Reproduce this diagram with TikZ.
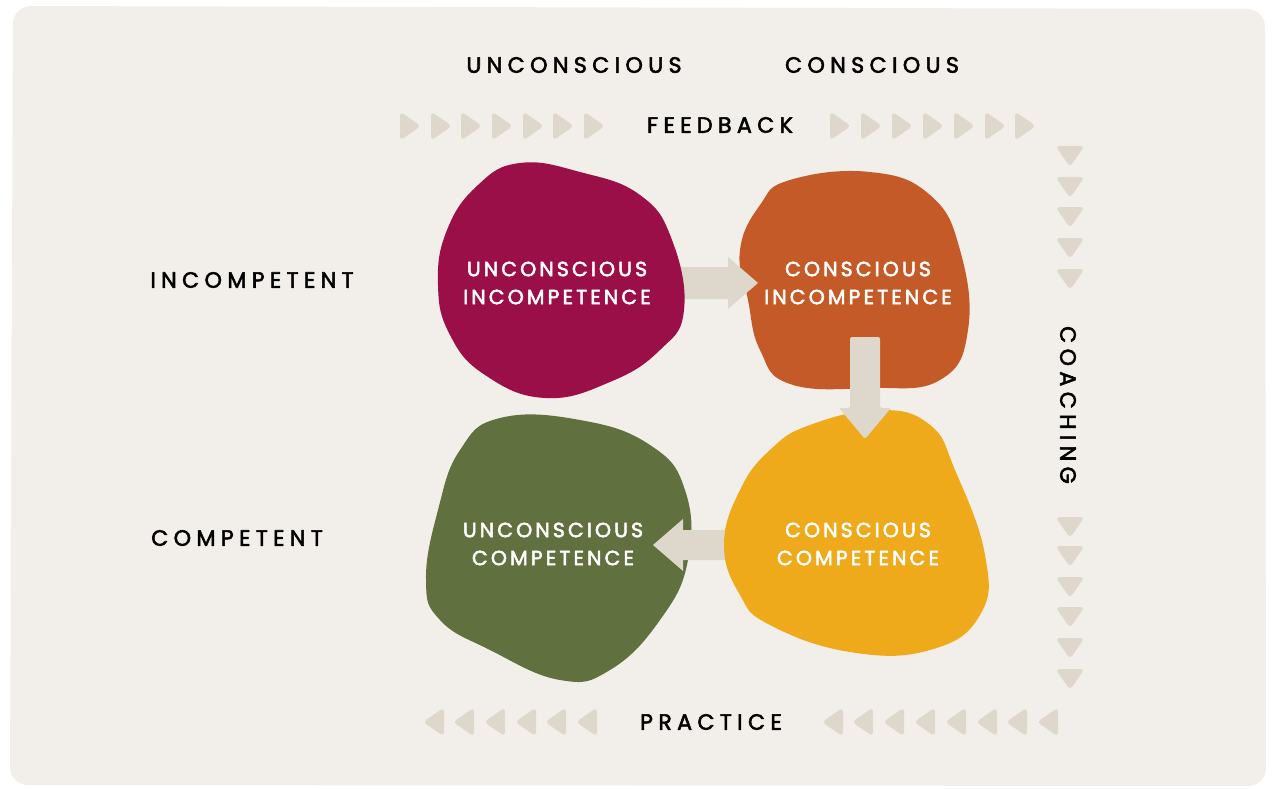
\documentclass[tikz,border=0pt]{standalone}
\usepackage{fontspec}
\setmainfont{Poppins}[LetterSpace=14]
\newfontfamily\axisfont{Poppins}[LetterSpace=24, FakeBold=2.4]
\newfontfamily\stagefont{Poppins}[LetterSpace=15, FakeBold=2.6]
\definecolor{card}{HTML}{F2EFEA}
\definecolor{marker}{HTML}{DED8CC}
\definecolor{wine}{HTML}{9A0F47}
\definecolor{rust}{HTML}{C45A27}
\definecolor{mustard}{HTML}{EEAA1A}
\definecolor{olive}{HTML}{61703F}
\tikzset{
  tip/.pic={\fill[marker, rounded corners=4pt] (-10,-14.5)--(11,0)--(-10,14.5)--cycle;},
  axis/.style={font=\axisfont\fontsize{22.2}{22}\selectfont, text=black},
  stage/.style={font=\stagefont\fontsize{20.5}{28}\selectfont, text=white, align=center},
  blob/.style={smooth cycle, tension=0.75}
}
\begin{document}
\begin{tikzpicture}[x=1pt, y=-1pt, line join=round, line cap=round]
  \useasboundingbox (0,0) rectangle (1272,789);
  \fill[white] (0,0) rectangle (1272,789);
  \fill[card, rounded corners=18pt] (13,6) -- (1265,9) -- (1266,786) -- (10,785) -- cycle;
  % markers
  \foreach \x in {410,441,471,502,533,563,594,840,871,902,933,964,995,1025}
    \pic at (\x,126) {tip};
  \foreach \y in {156,187,217,248,279,527,556,587,617,648,679}
    \pic[rotate=-90] at (1070,\y) {tip};
  \foreach \x in {434,464,495,526,556,587,833,863,894,925,956,987,1017,1048}
    \pic[rotate=180] at (\x,722) {tip};
  % blobs
  \fill[rust] plot[blob] coordinates {(790,180) (870,172) (930,195) (960,250) (968,330) (940,380) (870,388) (790,384) (760,350) (748,300) (740,250) (760,205)};
  \fill[olive] plot[blob] coordinates {(500,418) (580,420) (650,445) (685,490) (688,560) (660,620) (610,670) (560,680) (490,650) (440,620) (426,580) (438,510) (460,450)};
  % arrows
  \fill[marker] (650,267) -- (728,267) -- (728,257) -- (758,283) -- (728,309) -- (728,299) -- (650,299) -- cycle;
  \fill[marker] (740,530) -- (683,530) -- (683,519) -- (653,545) -- (683,571) -- (683,560) -- (740,560) -- cycle;
  \fill[wine] plot[blob] coordinates {(520,163) (580,172) (640,195) (672,240) (684,310) (660,350) (610,382) (545,398) (485,375) (450,335) (438,285) (447,230) (478,185)};
  \fill[mustard] plot[blob] coordinates {(810,425) (880,410) (930,425) (955,470) (985,555) (980,615) (930,650) (850,652) (770,625) (740,595) (724,545) (740,490) (770,450)};
  \fill[marker, rounded corners=2pt] (850,337) -- (880,337) -- (880,408) -- (891,408) -- (865,439) -- (839,408) -- (850,408) -- cycle;
  % stage labels
  \node[stage] (ui) at (557,283) {UNCONSCIOUS\\INCOMPETENCE};
  \node[stage] (ci) at (858,283) {CONSCIOUS\\INCOMPETENCE};
  \node[stage] (cc) at (858,544) {CONSCIOUS\\COMPETENCE};
  \node[stage] (uc) at (553,544) {UNCONSCIOUS\\COMPETENCE};
  % axis labels
  \node[axis] (unc) at (574,65) {UNCONSCIOUS};
  \node[axis] (con) at (872,65) {CONSCIOUS};
  \node[axis] (feed) at (720,125) {FEEDBACK};
  \node[axis] (prac) at (711,722) {PRACTICE};
  \node[axis, rotate=-90] (coach) at (1068,405) {COACHING};
  \node[axis] (incomp) at (252,280) {INCOMPETENT};
  \node[axis] (comp) at (237,538) {COMPETENT};
\end{tikzpicture}
\end{document}
